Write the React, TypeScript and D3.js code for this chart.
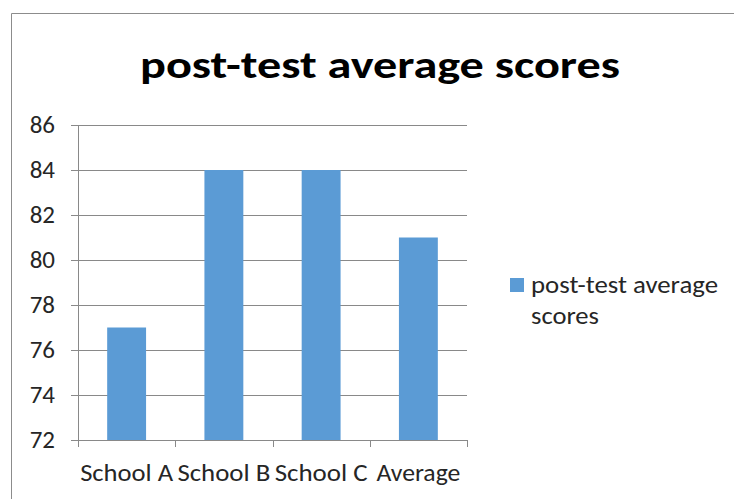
import React from "react";
import * as d3 from "d3";

const categories = ["School A", "School B", "School C", "Average"];
const values = [77, 84, 84, 81];
const yTicks = [72, 74, 76, 78, 80, 82, 84, 86];
const seriesName = "post-test average scores";
const legendLines = ["post-test average", "scores"];

const W = 734;
const H = 499;
const FONT = "Carlito, Calibri, 'Open Sans', 'Noto Sans', sans-serif";

export default function App() {
  const left = 78, right = 467, top = 125, bottom = 440;
  const x = d3.scaleBand<string>().domain(categories).range([left, right]).paddingInner(0.6).paddingOuter(0.3);
  const xb = d3.scaleBand<string>().domain(categories).range([left, right]);
  const y = d3.scaleLinear().domain([72, 86]).range([bottom, top]);
  const grid = "#898989";
  const text = "#262626";
  return (
    <svg width={W} height={H} style={{ position: "absolute", left: 0, top: 0 }}>
      <rect x={0} y={0} width={W} height={H} fill="#fff" />
      <path d={`M11.5,${H} V13.5 H${W}`} fill="none" stroke="#8c8c8c" strokeWidth={1} />
      <text x={380} y={78} textAnchor="middle" fontFamily={FONT} fontWeight="bold" fontSize={38} fill="#000" textLength={480} lengthAdjust="spacingAndGlyphs">{seriesName}</text>
      {yTicks.map((t) => (
        <g key={t}>
          <line x1={71} x2={right} y1={Math.round(y(t)) + 0.5} y2={Math.round(y(t)) + 0.5} stroke={grid} strokeWidth={1} />
          <text x={55} y={y(t) + 8} textAnchor="end" fontFamily={FONT} fontSize={25} fill={text}>{t}</text>
        </g>
      ))}
      {categories.map((c, i) => (
        <rect key={c} x={x(c)} y={y(values[i])} width={x.bandwidth()} height={bottom - y(values[i])} fill="#5B9BD5" />
      ))}
      <line x1={left + 0.5} x2={left + 0.5} y1={top} y2={bottom + 7} stroke={grid} />
      {categories.map((c) => (
        <line key={c} x1={Math.round((xb(c) as number) + xb.bandwidth()) + 0.5} x2={Math.round((xb(c) as number) + xb.bandwidth()) + 0.5} y1={bottom} y2={bottom + 7} stroke={grid} />
      ))}
      {categories.map((c) => (
        <text key={c} x={(xb(c) as number) + xb.bandwidth() / 2} y={481} textAnchor="middle" fontFamily={FONT} fontSize={25} fill={text} textLength={c === "Average" ? 84 : 93} lengthAdjust="spacingAndGlyphs">{c}</text>
      ))}
      <rect x={510} y={278} width={14} height={14} fill="#5B9BD5" />
      <text x={531} y={293} fontFamily={FONT} fontSize={25} fill={text} textLength={187} lengthAdjust="spacingAndGlyphs">{legendLines[0]}</text>
      <text x={531} y={324} fontFamily={FONT} fontSize={25} fill={text} textLength={68} lengthAdjust="spacingAndGlyphs">{legendLines[1]}</text>
    </svg>
  );
}
